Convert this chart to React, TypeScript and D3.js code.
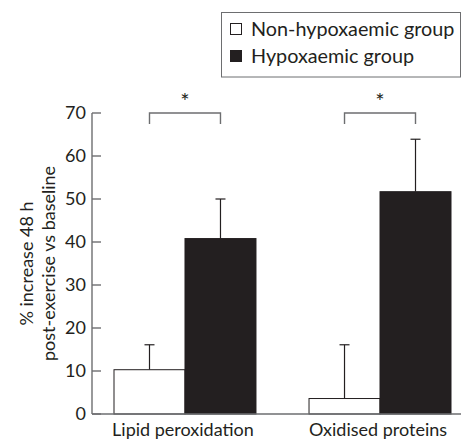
import React from 'react';
import * as d3 from 'd3';

const categories = ['Lipid peroxidation', 'Oxidised proteins'];
const groups = ['Non-hypoxaemic group', 'Hypoxaemic group'];
const nonHypoxaemic = [10.3, 3.6];
const nonHypoxaemicErr = [5.8, 12.5];
const hypoxaemic = [40.8, 51.7];
const hypoxaemicErr = [9.2, 12.2];
const yTicks = [0, 10, 20, 30, 40, 50, 60, 70];

const width = 461;
const height = 442;
const ink = '#231f20';
const axisGrey = '#6d6e70';
const font = 'Lato, sans-serif';

const renderChart = (svg: any) => {
  svg.selectAll('*').remove();

  const x = d3.scaleBand().domain(categories).range([114, 451]).paddingInner(0.272).paddingOuter(0);
  const xInner = d3.scaleBand().domain(groups).range([0, x.bandwidth()]);
  const y = d3.scaleLinear().domain([0, 70]).range([414, 113]);
  const axisX = 92;

  const rows = categories.flatMap((c, i) => [
    { cat: c, group: groups[0], value: nonHypoxaemic[i], err: nonHypoxaemicErr[i], fill: '#ffffff' },
    { cat: c, group: groups[1], value: hypoxaemic[i], err: hypoxaemicErr[i], fill: ink },
  ]);

  // error bars (drawn first so bars cover the lower part)
  const eb = svg.append('g').attr('stroke', ink).attr('stroke-width', 1.2);
  rows.forEach((d) => {
    const cx = (x(d.cat) as number) + (xInner(d.group) as number) + xInner.bandwidth() / 2;
    eb.append('line').attr('x1', cx).attr('x2', cx).attr('y1', y(d.value)).attr('y2', y(d.value + d.err));
    eb.append('line').attr('x1', cx - 5).attr('x2', cx + 5).attr('y1', y(d.value + d.err)).attr('y2', y(d.value + d.err));
  });

  // bars
  svg.append('g')
    .selectAll('rect')
    .data(rows)
    .join('rect')
    .attr('x', (d: any) => (x(d.cat) as number) + (xInner(d.group) as number))
    .attr('y', (d: any) => y(d.value))
    .attr('width', xInner.bandwidth())
    .attr('height', (d: any) => y(0) - y(d.value))
    .attr('fill', (d: any) => d.fill)
    .attr('stroke', ink)
    .attr('stroke-width', 1);

  // axes
  const ax = svg.append('g').attr('stroke', axisGrey).attr('stroke-width', 1.4).attr('fill', 'none');
  ax.append('line').attr('x1', axisX).attr('x2', axisX).attr('y1', y(0)).attr('y2', y(70));
  ax.append('line').attr('x1', axisX).attr('x2', width).attr('y1', y(0)).attr('y2', y(0));
  yTicks.forEach((t) => {
    ax.append('line').attr('x1', axisX).attr('x2', axisX + 9).attr('y1', y(t)).attr('y2', y(t));
  });

  svg.append('g')
    .selectAll('text')
    .data(yTicks)
    .join('text')
    .attr('x', axisX - 6)
    .attr('y', (d: number) => y(d))
    .attr('dy', '0.36em')
    .attr('text-anchor', 'end')
    .attr('font-family', font)
    .attr('font-size', 18)
    .attr('fill', ink)
    .text((d: number) => d);

  // category labels
  svg.append('g')
    .selectAll('text')
    .data(categories)
    .join('text')
    .attr('x', (d: string) => (x(d) as number) + x.bandwidth() / 2 - 2)
    .attr('y', 436)
    .attr('text-anchor', 'middle')
    .attr('font-family', font)
    .attr('font-size', 18)
    .attr('fill', ink)
    .text((d: string) => d);

  // y label
  const yl = svg.append('text')
    .attr('transform', `translate(0, ${(y(0) + y(70)) / 2}) rotate(-90)`)
    .attr('text-anchor', 'middle')
    .attr('font-family', font)
    .attr('font-size', 18)
    .attr('fill', ink);
  yl.append('tspan').attr('x', 0).attr('y', 33).text('% increase 48 h');
  yl.append('tspan').attr('x', 0).attr('y', 55).text('post-exercise vs baseline');

  // significance brackets
  const br = svg.append('g');
  categories.forEach((c) => {
    const x1 = (x(c) as number) + xInner.bandwidth() / 2;
    const x2 = (x(c) as number) + xInner.bandwidth() * 1.5;
    br.append('path')
      .attr('d', `M${x1},${y(70) + 11}V${y(70)}H${x2}V${y(70) + 11}`)
      .attr('fill', 'none')
      .attr('stroke', axisGrey)
      .attr('stroke-width', 1.4);
    br.append('text')
      .attr('x', (x1 + x2) / 2)
      .attr('y', 109)
      .attr('text-anchor', 'middle')
      .attr('font-family', font)
      .attr('font-size', 22)
      .attr('fill', ink)
      .text('*');
  });

  // legend
  const lg = svg.append('g');
  lg.append('rect')
    .attr('x', 221.5).attr('y', 12.5).attr('width', 239).attr('height', 64.5)
    .attr('fill', 'none').attr('stroke', axisGrey).attr('stroke-width', 1);
  groups.forEach((g, i) => {
    const cy = 29 + i * 27;
    lg.append('rect')
      .attr('x', 230.5).attr('y', cy - 5.5).attr('width', 11).attr('height', 11)
      .attr('fill', i === 0 ? '#ffffff' : ink)
      .attr('stroke', ink).attr('stroke-width', 1);
    lg.append('text')
      .attr('x', 251)
      .attr('y', cy + 7)
      .attr('font-family', font)
      .attr('font-size', 19.8)
      .attr('fill', ink)
      .text(g);
  });
};

const App: React.FC = () => {
  const ref = React.useRef<SVGSVGElement>(null);

  React.useEffect(() => {
    renderChart(d3.select(ref.current));
  }, []);

  return (
    <svg
      ref={ref}
      width={width}
      height={height}
      style={{ position: 'absolute', left: 0, top: 0, background: '#fff' }}
    />
  );
};

export default App;
